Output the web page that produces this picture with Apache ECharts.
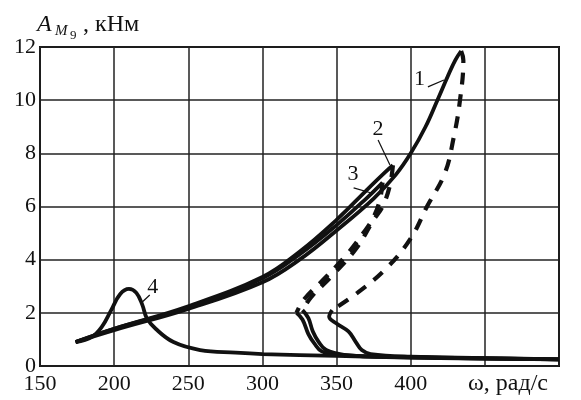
<!DOCTYPE html>
<html>
<head>
<meta charset="utf-8">
<script src="https://cdn.jsdelivr.net/npm/echarts@6/dist/echarts.min.js"></script>
<style>
  html, body { margin: 0; padding: 0; background: #fff; }
  #chart { width: 581px; height: 400px; }
</style>
</head>
<body>
<div id="chart"></div>
<script>
// ось ω и A
const xTicks = [150, 200, 250, 300, 350, 400, 450, 500];
const yTicks = [0, 2, 4, 6, 8, 10, 12];

// кривая 1
const c1Up = [[174, 0.9], [200, 1.35], [250, 2.15], [300, 3.15], [325, 4.0], [350, 5.1], [375, 6.3], [390, 7.2], [400, 8.0], [410, 9.0], [418, 10.0], [425, 10.9], [430, 11.5], [434, 11.85]];
const c1Dash = [[434, 11.85], [435.5, 11.5], [433, 9.9], [429, 8.6], [423, 7.25], [411, 6.0], [400, 4.8], [384, 3.7], [364, 2.75], [347, 2.1]];
const c1Down = [[347, 2.1], [345, 1.85], [350, 1.6], [358, 1.3], [363, 0.9], [367, 0.6], [373, 0.45], [400, 0.35], [450, 0.3], [500, 0.25]];

// кривая 2
const c2Up = [[174, 0.9], [200, 1.4], [250, 2.25], [300, 3.35], [325, 4.3], [350, 5.5], [370, 6.6], [383, 7.3], [388, 7.55]];
const c2Dash = [[388, 7.55], [386, 6.8], [381, 6.0], [375, 5.5], [363, 4.4], [347, 3.4], [333, 2.6], [327, 2.1]];
const c2Down = [[327, 2.1], [331, 1.8], [334, 1.3], [338, 0.9], [343, 0.6], [355, 0.42], [380, 0.35], [420, 0.3], [500, 0.25]];

// кривая 3
const c3Up = [[174, 0.9], [200, 1.4], [250, 2.2], [300, 3.3], [325, 4.2], [350, 5.3], [370, 6.3], [381, 6.9]];
const c3Dash = [[381, 6.9], [379, 6.2], [374, 5.5], [368, 5.0], [357, 4.2], [342, 3.3], [328, 2.5], [323, 2.0]];
const c3Down = [[323, 2.0], [327, 1.75], [331, 1.2], [335, 0.85], [340, 0.55], [352, 0.42], [380, 0.35], [500, 0.25]];

// кривая 4
const c4 = [[174, 0.9], [185, 1.1], [192, 1.5], [198, 2.1], [204, 2.7], [210, 2.9], [215, 2.75], [219, 2.3], [222, 1.8], [228, 1.4], [240, 0.9], [258, 0.6], [282, 0.5], [300, 0.45], [350, 0.38], [400, 0.32], [500, 0.25]];

const serif = '"Liberation Serif", "DejaVu Serif", serif';
const ink = '#111';

function solid(data) {
    return {
        type: 'line', data: data, smooth: 0.4, symbol: 'none',
        lineStyle: { color: ink, width: 3.8 }
    };
}
function dashed(data) {
    return {
        type: 'line', data: data, smooth: 0.4, symbol: 'none',
        lineStyle: { color: ink, width: 4.2, type: [12, 10] }
    };
}

const chart = echarts.init(document.getElementById('chart'));

chart.setOption({
    animation: false,
    grid: {
        left: 40, right: 22, top: 47, bottom: 34,
        show: true, borderColor: ink, borderWidth: 2
    },
    xAxis: {
        type: 'value', min: 150, max: 500, interval: 50,
        axisLine: { show: false },
        axisTick: { show: false },
        splitLine: { lineStyle: { color: '#222', width: 1.5 } },
        axisLabel: {
            color: ink, fontFamily: serif, fontSize: 22, margin: 7,
            formatter: v => (xTicks.indexOf(v) >= 0 && v <= 400 ? String(v) : '')
        }
    },
    yAxis: {
        type: 'value', min: 0, max: 12, interval: 2,
        axisLine: { show: false },
        axisTick: { show: false },
        splitLine: { lineStyle: { color: '#222', width: 1.5 } },
        axisLabel: {
            color: ink, fontFamily: serif, fontSize: 22, margin: 4,
            formatter: v => (yTicks.indexOf(v) >= 0 ? String(v) : '')
        }
    },
    series: [
        solid(c1Up), dashed(c1Dash), solid(c1Down),
        solid(c2Up), dashed(c2Dash), solid(c2Down),
        solid(c3Up), dashed(c3Dash), solid(c3Down),
        solid(c4)
    ]
});

// подписи кривых и выноски
function px(x, y) { return chart.convertToPixel({ gridIndex: 0 }, [x, y]); }

const marks = [
    { t: '1', at: [406, 10.8], from: [411.6, 10.5], to: [422.4, 10.76] },
    { t: '2', at: [378, 8.9], from: [378, 8.5], to: [386, 7.56] },
    { t: '3', at: [361, 7.2], from: [361.5, 6.7], to: [374, 6.5] },
    { t: '4', at: [226, 2.97], from: [224, 2.67], to: [218.8, 2.4] }
];

const graphics = [];
marks.forEach(m => {
    const p = px(m.at[0], m.at[1]);
    const a = px(m.from[0], m.from[1]);
    const b = px(m.to[0], m.to[1]);
    graphics.push({
        type: 'text', x: p[0], y: p[1],
        style: { text: m.t, font: '22px ' + serif, fill: ink, align: 'center', verticalAlign: 'middle' }
    });
    graphics.push({
        type: 'line', shape: { x1: a[0], y1: a[1], x2: b[0], y2: b[1] },
        style: { stroke: ink, lineWidth: 1.2 }
    });
});

// название оси Y: A_{M9}, кНм
graphics.push(
    { type: 'text', x: 37, y: 13, style: { text: 'A', font: 'italic 24px ' + serif, fill: ink } },
    { type: 'text', x: 55, y: 24, style: { text: 'M', font: 'italic 15px ' + serif, fill: ink } },
    { type: 'text', x: 70, y: 29, style: { text: '9', font: '13px ' + serif, fill: ink } },
    { type: 'text', x: 83, y: 13, style: { text: ', кНм', font: '24px ' + serif, fill: ink } },
    // название оси X
    { type: 'text', x: 468, y: 372, style: { text: 'ω, рад/с', font: '24px ' + serif, fill: ink } }
);

chart.setOption({ graphic: graphics });
</script>
</body>
</html>
